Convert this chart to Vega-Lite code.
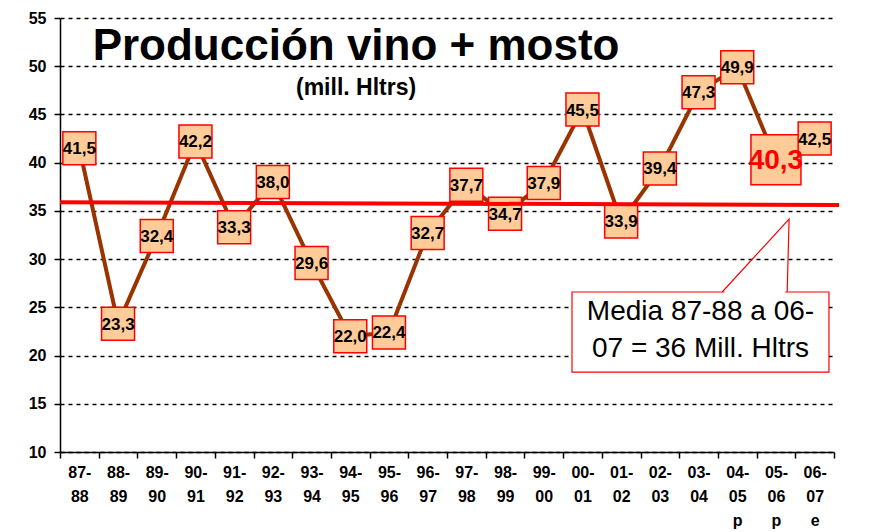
{
  "$schema": "https://vega.github.io/schema/vega-lite/v6.json",
  "width": 774,
  "height": 434,
  "autosize": {"type": "none"},
  "padding": {"left": 60, "top": 18, "right": 47, "bottom": 80},
  "background": "white",
  "config": {
    "view": {"stroke": null},
    "font": "Liberation Sans",
    "axisY": {
      "domainColor": "black", "domainWidth": 1.5,
      "tickColor": "black", "tickSize": 6, "tickWidth": 1.5,
      "labelFont": "Liberation Sans", "labelFontSize": 16, "labelFontWeight": "bold", "labelColor": "black", "labelPadding": 8,
      "grid": true, "gridColor": "black", "gridDash": [4, 4], "gridWidth": 1.5,
      "tickCount": 10, "title": null
    }
  },
  "datasets": {
    "prod": [
      {"cat": "87-|88", "v": 41.5, "t": "41,5", "d": false},
      {"cat": "88-|89", "v": 23.3, "t": "23,3", "d": false},
      {"cat": "89-|90", "v": 32.4, "t": "32,4", "d": false},
      {"cat": "90-|91", "v": 42.2, "t": "42,2", "d": false},
      {"cat": "91-|92", "v": 33.3, "t": "33,3", "d": false},
      {"cat": "92-|93", "v": 38.0, "t": "38,0", "d": false},
      {"cat": "93-|94", "v": 29.6, "t": "29,6", "d": false},
      {"cat": "94-|95", "v": 22.0, "t": "22,0", "d": false},
      {"cat": "95-|96", "v": 22.4, "t": "22,4", "d": false},
      {"cat": "96-|97", "v": 32.7, "t": "32,7", "d": false},
      {"cat": "97-|98", "v": 37.7, "t": "37,7", "d": false},
      {"cat": "98-|99", "v": 34.7, "t": "34,7", "d": false},
      {"cat": "99-|00", "v": 37.9, "t": "37,9", "d": false},
      {"cat": "00-|01", "v": 45.5, "t": "45,5", "d": false},
      {"cat": "01-|02", "v": 33.9, "t": "33,9", "d": false},
      {"cat": "02-|03", "v": 39.4, "t": "39,4", "d": false},
      {"cat": "03-|04", "v": 47.3, "t": "47,3", "d": false},
      {"cat": "04-|05|p", "v": 49.9, "t": "49,9", "d": false},
      {"cat": "05-|06|p", "v": 40.3, "t": "40,3", "d": true},
      {"cat": "06-|07|e", "v": 42.5, "t": "42,5", "d": false}
    ],
    "media": [
      {"xq": 0, "m": 35.9},
      {"xq": 20.13, "m": 35.6}
    ],
    "caja": [
      {"x1": 13.23, "x2": 19.87, "y1": 18.29, "y2": 26.59}
    ],
    "flecha": [
      {"xq": 17.11, "y": 26.59, "o": 1},
      {"xq": 18.84, "y": 34.16, "o": 2},
      {"xq": 18.79, "y": 26.59, "o": 3}
    ],
    "base": [
      {"x1": 17.17, "x2": 18.74, "y": 26.59}
    ],
    "nota": [
      {"xq": 16.55, "y": 23.69, "s": "Media 87-88 a 06-"},
      {"xq": 16.55, "y": 19.85, "s": "07 = 36 Mill. Hltrs"}
    ],
    "titulo": [
      {"xq": 7.65, "y": 50.64, "s": "Producción vino + mosto"}
    ],
    "subtitulo": [
      {"xq": 7.65, "y": 47.02, "s": "(mill. Hltrs)"}
    ]
  },
  "layer": [
    {
      "data": {"name": "prod"},
      "encoding": {
        "x": {
          "field": "cat", "type": "ordinal", "sort": null,
          "scale": {"type": "band", "paddingInner": 0, "paddingOuter": 0},
          "axis": {
            "title": null, "domainColor": "black", "domainWidth": 1.5,
            "tickColor": "black", "tickSize": 6, "tickWidth": 1.5, "tickBand": "extent",
            "labelAngle": 0, "labelFont": "Liberation Sans", "labelFontSize": 16, "labelFontWeight": "bold",
            "labelColor": "black", "labelExpr": "split(datum.label, '|')", "labelLineHeight": 24,
            "labelPadding": 6, "labelBaseline": "top", "grid": false
          }
        },
        "y": {"field": "v", "type": "quantitative", "title": null, "scale": {"domain": [10, 55], "nice": false, "zero": false}}
      },
      "layer": [
        {"mark": {"type": "line", "color": "#993300", "strokeWidth": 4}},
        {
          "mark": {"type": "point", "shape": "square", "filled": true, "fill": "#ffcc99", "stroke": "#ff0000", "strokeWidth": 1.5, "opacity": 1},
          "encoding": {"size": {"condition": {"test": "datum.d", "value": 2500}, "value": 1089}}
        }
      ]
    },
    {
      "data": {"name": "media"},
      "mark": {"type": "line", "color": "#ff0000", "strokeWidth": 4},
      "encoding": {
        "x": {"field": "xq", "type": "quantitative", "axis": null, "scale": {"domain": [0, 20], "nice": false, "zero": false}},
        "y": {"field": "m", "type": "quantitative", "title": null, "scale": {"domain": [10, 55], "nice": false, "zero": false}}
      }
    },
    {
      "data": {"name": "prod"},
      "mark": {"type": "text", "fontWeight": "bold", "align": "center", "baseline": "middle", "font": "Liberation Sans", "dy": 1},
      "encoding": {
        "x": {"field": "cat", "type": "ordinal", "sort": null, "axis": null, "scale": {"type": "band", "paddingInner": 0, "paddingOuter": 0}},
        "y": {"field": "v", "type": "quantitative", "title": null, "scale": {"domain": [10, 55], "nice": false, "zero": false}},
        "text": {"field": "t"},
        "size": {"condition": {"test": "datum.d", "value": 28}, "value": 17},
        "color": {"condition": {"test": "datum.d", "value": "#ff0000"}, "value": "black"}
      }
    },
    {
      "layer": [
        {
          "data": {"name": "caja"},
          "mark": {"type": "rect", "fill": "white", "stroke": "#ff0000", "strokeWidth": 1.2},
          "encoding": {
            "x": {"field": "x1", "type": "quantitative", "axis": null, "scale": {"domain": [0, 20], "nice": false, "zero": false}},
            "x2": {"field": "x2"},
            "y": {"field": "y1", "type": "quantitative", "title": null, "scale": {"domain": [10, 55], "nice": false, "zero": false}},
            "y2": {"field": "y2"}
          }
        },
        {
          "data": {"name": "base"},
          "mark": {"type": "rule", "color": "white", "strokeWidth": 2.5},
          "encoding": {
            "x": {"field": "x1", "type": "quantitative", "axis": null, "scale": {"domain": [0, 20], "nice": false, "zero": false}},
            "x2": {"field": "x2"},
            "y": {"field": "y", "type": "quantitative", "title": null, "scale": {"domain": [10, 55], "nice": false, "zero": false}}
          }
        },
        {
          "data": {"name": "flecha"},
          "mark": {"type": "line", "color": "#ff0000", "strokeWidth": 1.2},
          "encoding": {
            "x": {"field": "xq", "type": "quantitative", "axis": null, "scale": {"domain": [0, 20], "nice": false, "zero": false}},
            "y": {"field": "y", "type": "quantitative", "title": null, "scale": {"domain": [10, 55], "nice": false, "zero": false}},
            "order": {"field": "o"}
          }
        },
        {
          "data": {"name": "nota"},
          "mark": {"type": "text", "fontSize": 28, "font": "Liberation Sans", "align": "center", "baseline": "alphabetic", "color": "black"},
          "encoding": {
            "x": {"field": "xq", "type": "quantitative", "axis": null, "scale": {"domain": [0, 20], "nice": false, "zero": false}},
            "y": {"field": "y", "type": "quantitative", "title": null, "scale": {"domain": [10, 55], "nice": false, "zero": false}},
            "text": {"field": "s"}
          }
        },
        {
          "data": {"name": "titulo"},
          "mark": {"type": "text", "fontSize": 44, "font": "Liberation Sans", "fontWeight": "bold", "align": "center", "baseline": "alphabetic", "color": "black"},
          "encoding": {
            "x": {"field": "xq", "type": "quantitative", "axis": null, "scale": {"domain": [0, 20], "nice": false, "zero": false}},
            "y": {"field": "y", "type": "quantitative", "title": null, "scale": {"domain": [10, 55], "nice": false, "zero": false}},
            "text": {"field": "s"}
          }
        },
        {
          "data": {"name": "subtitulo"},
          "mark": {"type": "text", "fontSize": 23, "font": "Liberation Sans", "fontWeight": "bold", "align": "center", "baseline": "alphabetic", "color": "black"},
          "encoding": {
            "x": {"field": "xq", "type": "quantitative", "axis": null, "scale": {"domain": [0, 20], "nice": false, "zero": false}},
            "y": {"field": "y", "type": "quantitative", "title": null, "scale": {"domain": [10, 55], "nice": false, "zero": false}},
            "text": {"field": "s"}
          }
        }
      ]
    }
  ],
  "resolve": {"scale": {"x": "independent"}, "axis": {"x": "independent"}}
}
